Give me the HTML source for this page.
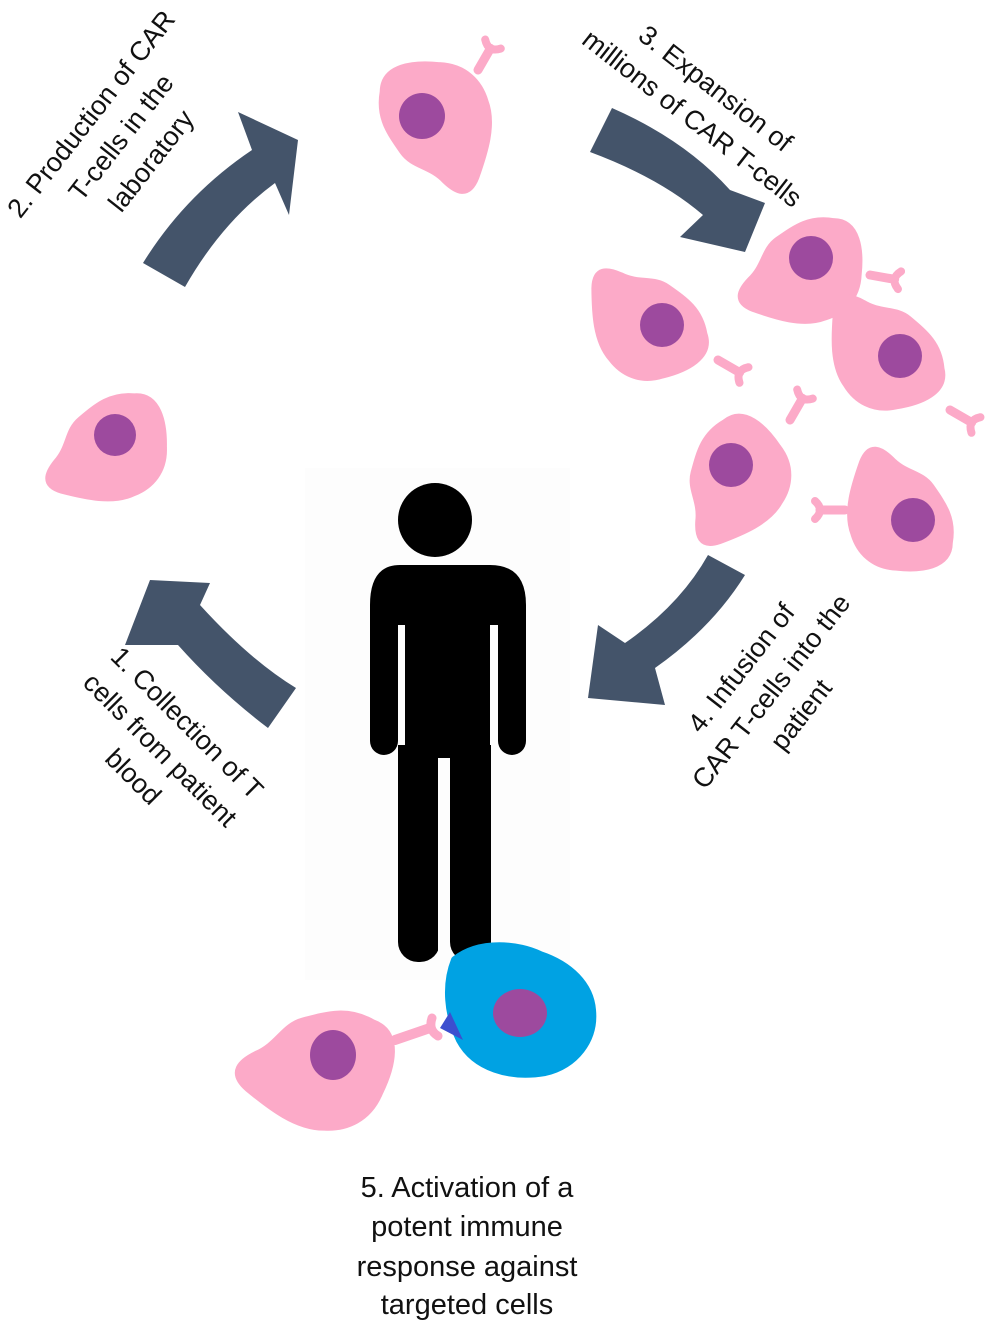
<!DOCTYPE html>
<html><head><meta charset="utf-8"><style>
html,body{margin:0;padding:0;background:#fff}
svg{display:block}
text{font-family:"Liberation Sans",sans-serif;font-size:29px;fill:#111}
.r{font-size:27px}
</style></head><body>
<svg width="992" height="1330" viewBox="0 0 992 1330" xmlns="http://www.w3.org/2000/svg">
<defs>
<g id="cell">
<path d="M-50,-20 C-55,-50 -20,-60 10,-62 C40,-66 60,-50 70,-30 C85,-5 80,30 75,60 C70,85 55,80 40,70 C20,55 0,60 -15,45 C-35,25 -50,10 -50,-20 Z" fill="#fcaac8" stroke="#fcaac8" stroke-width="8" stroke-linejoin="round"/>
</g>
<g id="rec">
<path d="M0,0 L0,-25" stroke="#fcaac8" stroke-width="9" stroke-linecap="round"/>
<path d="M-9,-30 Q0,-20 9,-30" stroke="#fcaac8" stroke-width="8" fill="none" stroke-linecap="round"/>
</g>
</defs>
<rect x="305" y="468" width="265" height="512" fill="#fdfdfd"/>

<!-- arrows -->
<g fill="#44546a">
<path d="M143,263 Q185,195 252,150 L238,112 L298,140 L289,215 L275,183 Q222,222 185,287 Z"/>
<path d="M612,108 Q685,140 730,190 L765,203 L745,252 L680,237 L703,215 Q660,178 590,152 Z"/>
<path d="M708,555 L745,575 Q712,628 655,668 L665,705 L588,698 L598,625 L625,643 Q680,605 708,555 Z"/>
<path d="M296,688 L268,728 Q218,690 178,645 L125,645 L150,580 L210,583 L200,605 Q250,660 296,688 Z"/>
</g>

<!-- cells -->
<g transform="translate(422,116) rotate(10) scale(0.85)"><use href="#cell"/></g>
<circle cx="422" cy="116" r="23" fill="#9d4a9e"/>
<g transform="translate(478,70) rotate(30)"><use href="#rec"/></g>
<g transform="translate(115,435) rotate(95) scale(0.8)"><use href="#cell"/></g>
<circle cx="115" cy="435" r="21" fill="#9d4a9e"/>

<g transform="translate(811,258) rotate(100) scale(0.8)"><use href="#cell"/></g>
<g transform="translate(870,275) rotate(100)"><use href="#rec"/></g>
<g transform="translate(662,325) rotate(170) scale(0.8)"><use href="#cell"/></g>
<g transform="translate(718,360) rotate(120)"><use href="#rec"/></g>
<g transform="translate(900,356) rotate(175) scale(0.8)"><use href="#cell"/></g>
<g transform="translate(950,410) rotate(120)"><use href="#rec"/></g>
<g transform="translate(731,465) rotate(60) scale(0.8)"><use href="#cell"/></g>
<g transform="translate(790,420) rotate(30)"><use href="#rec"/></g>
<g transform="translate(913,520) rotate(190) scale(0.8)"><use href="#cell"/></g>
<g transform="translate(845,510) rotate(-90)"><use href="#rec"/></g>
<g fill="#9d4a9e">
<circle cx="811" cy="258" r="22"/><circle cx="662" cy="325" r="22"/><circle cx="900" cy="356" r="22"/><circle cx="731" cy="465" r="22"/><circle cx="913" cy="520" r="22"/>
</g>

<!-- person -->
<g fill="#000">
<circle cx="435" cy="520" r="37"/>
<path d="M400,565 L490,565 Q526,565 526,605 L526,625 L370,625 L370,605 Q370,565 400,565 Z"/>
<rect x="370" y="600" width="28" height="155" rx="14"/>
<rect x="498" y="600" width="28" height="155" rx="14"/>
<rect x="405" y="600" width="85" height="160"/>
<rect x="398" y="745" width="42" height="217" rx="20"/>
<rect x="450" y="745" width="41" height="217" rx="20"/>
<rect x="398" y="745" width="93" height="40"/>
</g>
<rect x="438" y="758" width="12" height="210" fill="#fdfdfd"/>

<!-- bottom interaction -->
<g transform="translate(333,1055) rotate(120) scale(0.95)"><use href="#cell"/></g>
<ellipse cx="333" cy="1055" rx="23" ry="25" fill="#9d4a9e"/>
<path d="M395,1040 L430,1028" stroke="#fcaac8" stroke-width="10" stroke-linecap="round"/>
<path d="M432,1018 Q428,1030 438,1036" stroke="#fcaac8" stroke-width="9" fill="none" stroke-linecap="round"/>
<path d="M455,960 C480,940 520,945 540,955 C570,965 590,985 592,1010 C595,1040 575,1065 545,1072 C510,1078 475,1068 460,1040 C448,1015 445,985 455,960 Z" fill="#00a2e3" stroke="#00a2e3" stroke-width="8" stroke-linejoin="round"/>
<ellipse cx="520" cy="1013" rx="27" ry="24" fill="#9d4a9e"/>
<polygon points="450,1012 440,1028 463,1040" fill="#3c4fcf"/>

<!-- labels -->
<g class="r" transform="translate(122,138) rotate(-52)" text-anchor="middle">
<text class="r" x="0" y="-30">2. Production of CAR</text>
<text class="r" x="0" y="8">T-cells in the</text>
<text class="r" x="0" y="46">laboratory</text>
</g>
<g transform="translate(705,102) rotate(38)" text-anchor="middle">
<text class="r" x="0" y="-8">3. Expansion of</text>
<text class="r" x="0" y="30">millions of CAR T-cells</text>
</g>
<g transform="translate(165,745) rotate(45)" text-anchor="middle">
<text class="r" x="0" y="-22">1. Collection of T</text>
<text class="r" x="0" y="16">cells from patient</text>
<text class="r" x="0" y="54">blood</text>
</g>
<g transform="translate(772,692) rotate(-52)" text-anchor="middle">
<text class="r" x="0" y="-30">4. Infusion of</text>
<text class="r" x="0" y="8">CAR T-cells into the</text>
<text class="r" x="0" y="46">patient</text>
</g>
<g text-anchor="middle">
<text x="467" y="1197">5. Activation of a</text>
<text x="467" y="1236">potent immune</text>
<text x="467" y="1276">response against</text>
<text x="467" y="1314">targeted cells</text>
</g>
</svg>
</body></html>
